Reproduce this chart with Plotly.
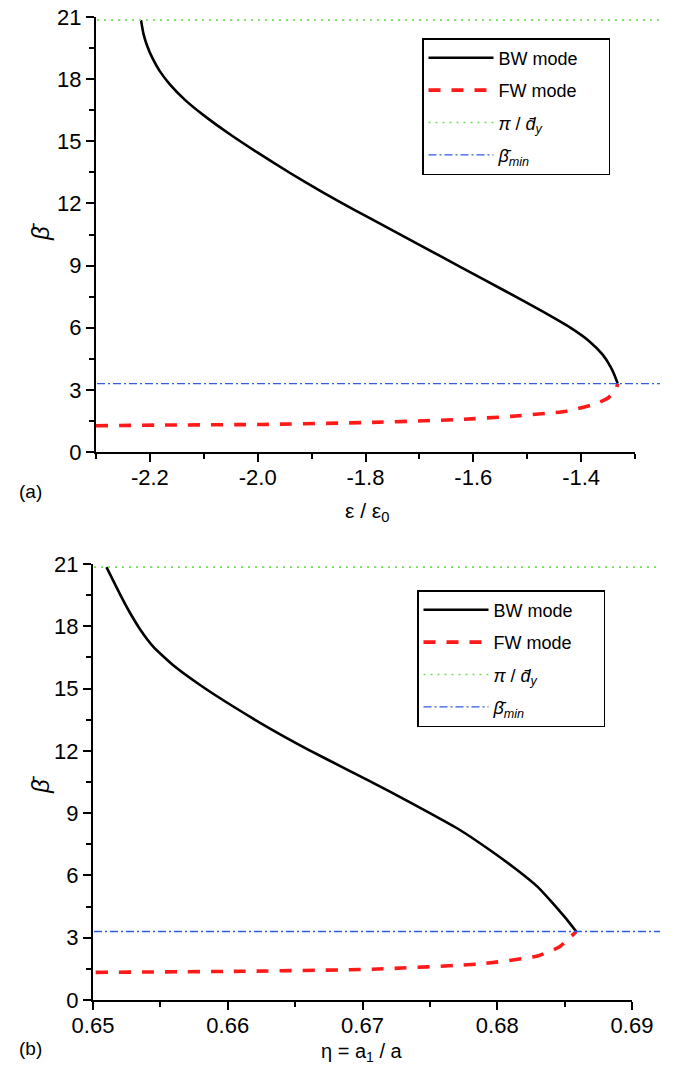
import plotly.graph_objects as go

W, H = 677, 1071

# ---- panel (a): beta vs eps / eps0 ----
eps_bw = [-2.2165, -2.212, -2.205, -2.195, -2.182, -2.163, -2.135, -2.100, -2.055,
          -2.000, -1.940, -1.880, -1.820, -1.780, -1.700, -1.620, -1.540, -1.470,
          -1.420, -1.385, -1.360, -1.345, -1.337, -1.332]
beta_bw_a = [20.85, 20.2, 19.6, 19.0, 18.4, 17.75, 17.0, 16.25, 15.4,
             14.45, 13.47, 12.55, 11.68, 11.12, 10.0, 8.88, 7.76, 6.76,
             6.0, 5.35, 4.7, 4.1, 3.65, 3.3]
eps_fw = [-2.3, -2.172, -1.992, -1.787, -1.626, -1.530, -1.427, -1.376, -1.350,
          -1.336, -1.332]
beta_fw_a = [1.27, 1.30, 1.33, 1.43, 1.57, 1.72, 1.97, 2.30, 2.61, 3.0, 3.3]

# ---- panel (b): beta vs eta = a1 / a ----
eta_bw = [0.6510, 0.6515, 0.6520, 0.6527, 0.6535, 0.6545, 0.6560, 0.6580, 0.6605,
          0.6632, 0.6660, 0.6690, 0.6720, 0.6750, 0.6772, 0.6795, 0.6815, 0.6830,
          0.6840, 0.6850, 0.68586]
beta_bw_b = [20.85, 20.2, 19.55, 18.7, 17.85, 17.0, 16.1, 15.15, 14.1,
             13.05, 12.05, 11.05, 10.05, 9.0, 8.2, 7.2, 6.25, 5.45,
             4.75, 4.0, 3.3]
eta_fw = [0.6502, 0.6605, 0.6707, 0.6789, 0.6830, 0.6846, 0.6853, 0.68586]
beta_fw_b = [1.33, 1.38, 1.48, 1.75, 2.12, 2.55, 2.95, 3.3]

# reference levels
pi_over_dy = 20.85
beta_min = 3.3

x_ticks_a = [-2.2, -2.0, -1.8, -1.6, -1.4]
x_labels_a = ["-2.2", "-2.0", "-1.8", "-1.6", "-1.4"]
x_ticks_b = [0.65, 0.66, 0.67, 0.68, 0.69]
x_labels_b = ["0.65", "0.66", "0.67", "0.68", "0.69"]
y_ticks = [0, 3, 6, 9, 12, 15, 18, 21]
y_labels = ["0", "3", "6", "9", "12", "15", "18", "21"]

FONT = "Arial, Liberation Sans, sans-serif"
GREEN = "#72de58"
BLUE = "#2f5be8"
RED = "#ff1a1a"

PAD = "&nbsp;" * 5
names = ["BW mode" + PAD, "FW mode" + PAD,
         "<i>π</i> / <i>d̄</i><sub><i>y</i></sub>",
         "<i>β̄</i><sub><i>min</i></sub>"]

fig = go.Figure()


def add_panel(x_bw, y_bw, x_fw, y_fw, xa, ya, xl, legend):
    fig.add_trace(go.Scatter(x=x_bw, y=y_bw, mode="lines", name=names[0],
                             line=dict(color="black", width=2.6, shape="spline", smoothing=0.5),
                             xaxis=xa, yaxis=ya, legend=legend, legendgroup=legend + "1"))
    fig.add_trace(go.Scatter(x=x_fw, y=y_fw, mode="lines", name=names[1],
                             line=dict(color=RED, width=3.6, dash="12px,11px", shape="spline", smoothing=0.5),
                             xaxis=xa, yaxis=ya, legend=legend, legendgroup=legend + "2"))
    # horizontal reference lines on a wider hidden x axis
    fig.add_trace(go.Scatter(x=[0, 1], y=[pi_over_dy, pi_over_dy], mode="lines", name=names[2],
                             line=dict(color=GREEN, width=1.6, dash="2px,5px"),
                             xaxis=xl, yaxis=ya, legend=legend, legendgroup=legend + "3"))
    fig.add_trace(go.Scatter(x=[0, 1], y=[beta_min, beta_min], mode="lines", name=names[3],
                             line=dict(color=BLUE, width=1.3, dash="8px,3px,2px,3px"),
                             xaxis=xl, yaxis=ya, legend=legend, legendgroup=legend + "4"))


add_panel(eps_bw, beta_bw_a, eps_fw, beta_fw_a, "x", "y", "x3", "legend")
add_panel(eta_bw, beta_bw_b, eta_fw, beta_fw_b, "x2", "y2", "x4", "legend2")

axis_common = dict(showline=True, linecolor="black", linewidth=2, ticks="outside",
                   ticklen=8, tickwidth=2, tickcolor="black", showgrid=False,
                   zeroline=False, tickfont=dict(family=FONT, size=22, color="black"),
                   automargin=False, fixedrange=True, tickmode="array")

def px_x(p):
    return p / W

def px_y(p):
    return 1 - p / H

def minor(dtick, tick0):
    return dict(dtick=dtick, tick0=tick0, ticks="outside", ticklen=5, tickwidth=1.5,
                tickcolor="black", showgrid=False)

fig.update_layout(
    xaxis=dict(domain=[px_x(96), px_x(635)], range=[-2.3, -1.3], anchor="y",
               tickvals=x_ticks_a, ticktext=x_labels_a, ticklabelstandoff=-3,
               minor=minor(0.1, -2.3), **axis_common),
    yaxis=dict(domain=[px_y(452), px_y(17)], range=[0, 21], anchor="x",
               tickvals=y_ticks, ticktext=y_labels, minor=minor(1.5, 0), **axis_common),
    xaxis2=dict(domain=[px_x(93), px_x(632)], range=[0.65, 0.69], anchor="y2",
                tickvals=x_ticks_b, ticktext=x_labels_b, ticklabelstandoff=-3,
                minor=minor(0.005, 0.65), **axis_common),
    yaxis2=dict(domain=[px_y(1000), px_y(564)], range=[0, 21], anchor="x2",
                tickvals=y_ticks, ticktext=y_labels, minor=minor(1.5, 0), **axis_common),
    xaxis3=dict(domain=[px_x(97), px_x(660)], range=[0, 1], anchor="y", visible=False,
                fixedrange=True),
    xaxis4=dict(domain=[px_x(94), px_x(660)], range=[0, 1], anchor="y2", visible=False,
                fixedrange=True),
    width=W, height=H,
    margin=dict(l=0, r=0, t=0, b=0),
    paper_bgcolor="white", plot_bgcolor="rgba(0,0,0,0)",
    font=dict(family=FONT, color="black"),
    legend=dict(x=px_x(422), y=px_y(38), xanchor="left", yanchor="top",
                bgcolor="white", bordercolor="black", borderwidth=1.5,
                font=dict(family=FONT, size=18), tracegroupgap=6, itemwidth=65),
    legend2=dict(x=px_x(417), y=px_y(590), xanchor="left", yanchor="top",
                 bgcolor="white", bordercolor="black", borderwidth=1.5,
                 font=dict(family=FONT, size=18), tracegroupgap=6, itemwidth=65),
    showlegend=True,
)

annotations = [
    dict(text="ε / ε<sub>0</sub>", x=px_x(367), y=px_y(512), font=dict(size=21)),
    dict(text="η = a<sub>1</sub> / a", x=px_x(362), y=px_y(1052), font=dict(size=20)),
    dict(text="<i>β̄</i>", x=px_x(40), y=px_y(232), textangle=-90, font=dict(size=24)),
    dict(text="<i>β̄</i>", x=px_x(40), y=px_y(785), textangle=-90, font=dict(size=24)),
    dict(text="(a)", x=px_x(30), y=px_y(492), font=dict(size=19)),
    dict(text="(b)", x=px_x(30), y=px_y(1048), font=dict(size=19)),
]
for a in annotations:
    a.update(xref="paper", yref="paper", showarrow=False, xanchor="center", yanchor="middle")
    a["font"].update(family=FONT, color="black")
fig.update_layout(annotations=annotations)

fig.write_html("out.html")
